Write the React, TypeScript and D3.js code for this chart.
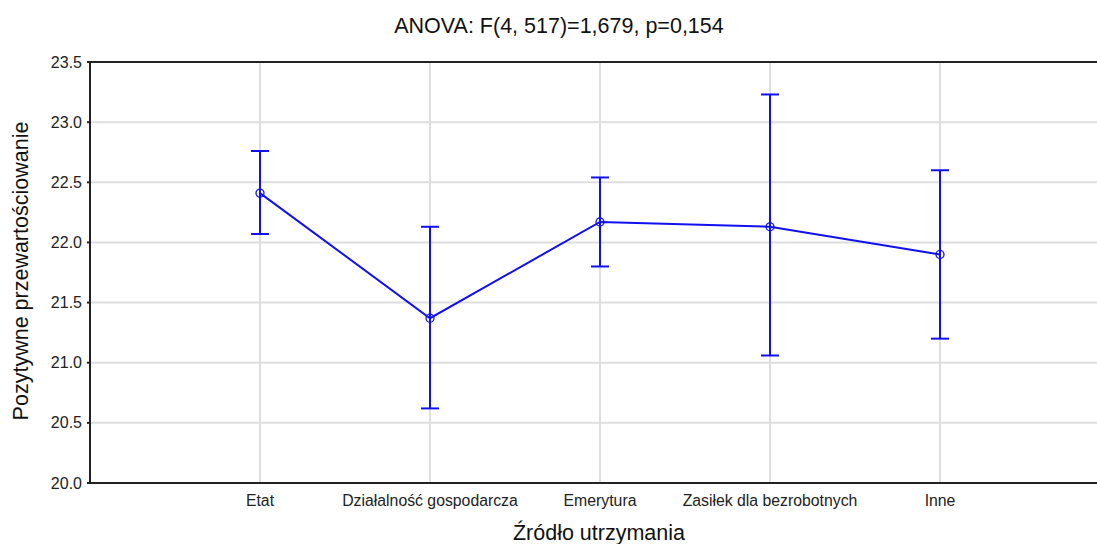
import React from "react";
import * as d3 from "d3";

const categories = ["Etat", "Działalność gospodarcza", "Emerytura", "Zasiłek dla bezrobotnych", "Inne"];
const means = [22.41, 21.37, 22.17, 22.13, 21.9];
const upper = [22.76, 22.13, 22.54, 23.23, 22.6];
const lower = [22.07, 20.62, 21.8, 21.06, 21.2];
const yTicks = [20.0, 20.5, 21.0, 21.5, 22.0, 22.5, 23.0, 23.5];

const W = 1097;
const H = 544;
const left = 90;
const right = 1110;
const top = 62;
const bottom = 483;
const FONT = "'Liberation Sans', Arial, sans-serif";
const BLUE = "#1010f0";

export default function App() {
  const x = d3.scalePoint<string>().domain(categories).range([left, right]).padding(1);
  const y = d3.scaleLinear().domain([20, 23.5]).range([bottom, top]);
  const line = d3
    .line<number>()
    .x((_, i) => x(categories[i]) as number)
    .y((d) => y(d));

  return (
    <svg width={W} height={H} style={{ position: "absolute", left: 0, top: 0, background: "#fff" }}>
      <rect width={W} height={H} fill="#fff" />
      {/* grid */}
      {yTicks.slice(1, -1).map((t) => (
        <line key={"gy" + t} x1={left} x2={right} y1={y(t)} y2={y(t)} stroke="#dedede" strokeWidth={2} />
      ))}
      {categories.map((c) => (
        <line key={"gx" + c} x1={x(c)} x2={x(c)} y1={top} y2={bottom} stroke="#dedede" strokeWidth={2} />
      ))}
      {/* frame */}
      <line x1={left} x2={right} y1={top} y2={top} stroke="#222" strokeWidth={2} />
      <line x1={left} x2={right} y1={bottom} y2={bottom} stroke="#222" strokeWidth={2} />
      <line x1={left} x2={left} y1={top} y2={bottom} stroke="#222" strokeWidth={2} />
      {/* y ticks */}
      {yTicks.map((t) => (
        <g key={"yt" + t}>
          <line x1={left - 3} x2={left} y1={y(t)} y2={y(t)} stroke="#222" strokeWidth={2} />
          <text x={82} y={y(t)} dy="0.35em" textAnchor="end" fontFamily={FONT} fontSize={16} fill="#222">
            {t.toFixed(1)}
          </text>
        </g>
      ))}
      {/* x tick labels */}
      {categories.map((c) => (
        <text key={"xt" + c} x={x(c)} y={506} textAnchor="middle" fontFamily={FONT} fontSize={15.8} fill="#222">
          {c}
        </text>
      ))}
      {/* error bars */}
      {categories.map((c, i) => {
        const cx = x(c) as number;
        return (
          <g key={"eb" + c} stroke={BLUE} strokeWidth={2}>
            <line x1={cx} x2={cx} y1={y(upper[i])} y2={y(lower[i])} />
            <line x1={cx - 9} x2={cx + 9} y1={y(upper[i])} y2={y(upper[i])} />
            <line x1={cx - 9} x2={cx + 9} y1={y(lower[i])} y2={y(lower[i])} />
          </g>
        );
      })}
      <path d={line(means) as string} fill="none" stroke={BLUE} strokeWidth={2} />
      {means.map((m, i) => (
        <circle key={"pt" + i} cx={x(categories[i])} cy={y(m)} r={4} fill="none" stroke={BLUE} strokeWidth={1.3} />
      ))}
      {/* titles */}
      <text x={559} y={33} textAnchor="middle" fontFamily={FONT} fontSize={21.5} fill="#111">
        ANOVA: F(4, 517)=1,679, p=0,154
      </text>
      <text x={599} y={540} textAnchor="middle" fontFamily={FONT} fontSize={21.5} fill="#111">
        Źródło utrzymania
      </text>
      <text
        transform={`translate(28, 271) rotate(-90)`}
        textAnchor="middle"
        fontFamily={FONT}
        fontSize={21.5}
        fill="#111"
      >
        Pozytywne przewartościowanie
      </text>
    </svg>
  );
}
